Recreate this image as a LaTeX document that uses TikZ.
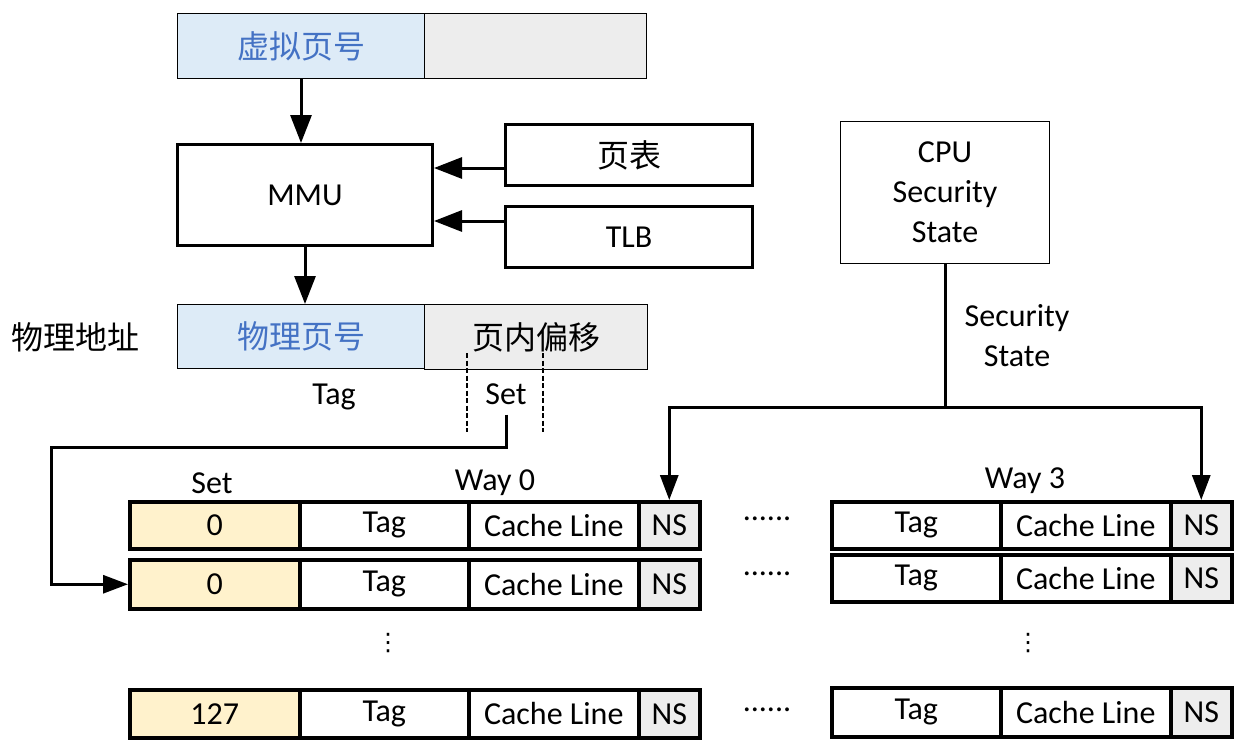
\documentclass[tikz,border=0pt]{standalone}
\usepackage{fontspec}
\setmainfont{Carlito}
\newfontfamily\cjk{Noto Sans CJK SC}
\newfontfamily\djv{DejaVu Sans}
\usetikzlibrary{arrows.meta}
\definecolor{bluef}{RGB}{221,235,247}
\definecolor{bluet}{RGB}{68,114,196}
\definecolor{grayf}{RGB}{237,237,237}
\definecolor{yelf}{RGB}{255,242,204}
\begin{document}
\begin{tikzpicture}[x=1pt,y=-1pt,
 every node/.style={inner sep=0pt, font=\fontsize{32}{40}\selectfont},
 cjkf/.style={font=\cjk\fontsize{32}{38}\selectfont},
 box/.style={draw, anchor=north west, line width=1pt},
 tbox/.style={draw, anchor=north west, line width=3pt},
 cell/.style={draw, anchor=north west, line width=3.5pt},
 arr/.style={line width=3pt, -{Triangle[length=28pt,width=21pt]}},
 arrs/.style={line width=3pt, -{Triangle[length=25pt,width=18pt]}},
 vdotsn/.style={font=\djv\fontsize{24}{24}\selectfont},
]
\useasboundingbox (0,0) rectangle (1244,748);
% address rows
\node[box, fill=bluef, minimum width=247, minimum height=65, text=bluet, cjkf] (vpn) at (177,13) {虚拟页号};
\node[box, fill=grayf, minimum width=222, minimum height=65] (voff) at (424,13) {};
\node[tbox, minimum width=255, minimum height=101] (mmu) at (176,143) {MMU};
\node[tbox, minimum width=247, minimum height=61, cjkf] (pt) at (504,123) {页表};
\node[tbox, minimum width=247, minimum height=61] (tlb) at (504,205) {TLB};
\node[box, fill=bluef, minimum width=247, minimum height=64, text=bluet, cjkf] (ppn) at (177,304) {物理页号};
\node[box, fill=grayf, minimum width=223, minimum height=65, cjkf] (poff) at (424,304) {页内偏移};
\node[cjkf] (pa) at (75,337) {物理地址};
\node (tagl) at (334,397) {Tag};
\node (setl) at (506,394) {Set};
% CPU
\node[box, minimum width=209, minimum height=142, align=center] (cpu) at (840,121) {CPU\\Security\\State};
\node[align=center] (ssl) at (1017,336) {Security\\State};
% headers
\node (seth) at (212,483) {Set};
\node (w0) at (495,483) {Way 0};
\node (w3) at (1025,481) {Way 3};
% left rows
\node[cell, fill=yelf, minimum width=170, minimum height=47] (s1) at (128,500) {0};
\node[cell, minimum width=169, minimum height=47] (t1) at (298,500) {Tag};
\node[cell, minimum width=170, minimum height=47] (c1) at (467,500) {Cache Line};
\node[cell, fill=grayf, minimum width=61, minimum height=47] (n1) at (637,500) {NS};
\node[cell, fill=yelf, minimum width=170, minimum height=49] (s2) at (128,558) {0};
\node[cell, minimum width=169, minimum height=49] (t2) at (298,558) {Tag};
\node[cell, minimum width=170, minimum height=49] (c2) at (467,558) {Cache Line};
\node[cell, fill=grayf, minimum width=61, minimum height=49] (n2) at (637,558) {NS};
\node[cell, fill=yelf, minimum width=170, minimum height=48] (s3) at (128,688) {127};
\node[cell, minimum width=169, minimum height=48] (t3) at (298,688) {Tag};
\node[cell, minimum width=170, minimum height=48] (c3) at (467,688) {Cache Line};
\node[cell, fill=grayf, minimum width=61, minimum height=48] (n3) at (637,688) {NS};
% right rows
\node[cell, minimum width=169, minimum height=47] (rt1) at (830,500) {Tag};
\node[cell, minimum width=170, minimum height=47] (rc1) at (999,500) {Cache Line};
\node[cell, fill=grayf, minimum width=61, minimum height=47] (rn1) at (1169,500) {NS};
\node[cell, minimum width=169, minimum height=47] (rt2) at (830,553) {Tag};
\node[cell, minimum width=170, minimum height=47] (rc2) at (999,553) {Cache Line};
\node[cell, fill=grayf, minimum width=61, minimum height=47] (rn2) at (1169,553) {NS};
\node[cell, minimum width=169, minimum height=49] (rt3) at (830,686) {Tag};
\node[cell, minimum width=170, minimum height=49] (rc3) at (999,686) {Cache Line};
\node[cell, fill=grayf, minimum width=61, minimum height=49] (rn3) at (1169,686) {NS};
% dots
\node (d1) at (767,519) {......};
\node (d2) at (767,574) {......};
\node (d3) at (767,710) {......};
\node[vdotsn] (v1) at (388,643) {⋮};
\node[vdotsn] (v2) at (1028,643) {⋮};
% connectors
\draw[arr] (vpn.south) -- (vpn.south |- mmu.north);
\draw[arr] (mmu.south) -- (mmu.south |- ppn.north);
\coordinate (a1) at ([yshift=-13pt]pt.west);
\draw[arr] (a1) -- (a1 -| mmu.east);
\coordinate (a2) at ([yshift=16pt]tlb.west);
\draw[arr] (a2) -- (a2 -| mmu.east);
\draw[line width=2pt, dash pattern=on 5pt off 2.5pt] (467,353) -- (467,432);
\draw[line width=2pt, dash pattern=on 5pt off 2.5pt] (543,353) -- (543,432);
\coordinate (bend) at (51,447);
\draw[arrs] ([yshift=-10pt]setl.south) |- (bend) |- (s2.west);
\coordinate (j) at (945,407);
\draw[line width=3pt] (cpu.south) -- (j);
\draw[arrs] (j) -| (n1.north);
\draw[arrs] (j) -| (rn1.north);
\end{tikzpicture}
\end{document}
